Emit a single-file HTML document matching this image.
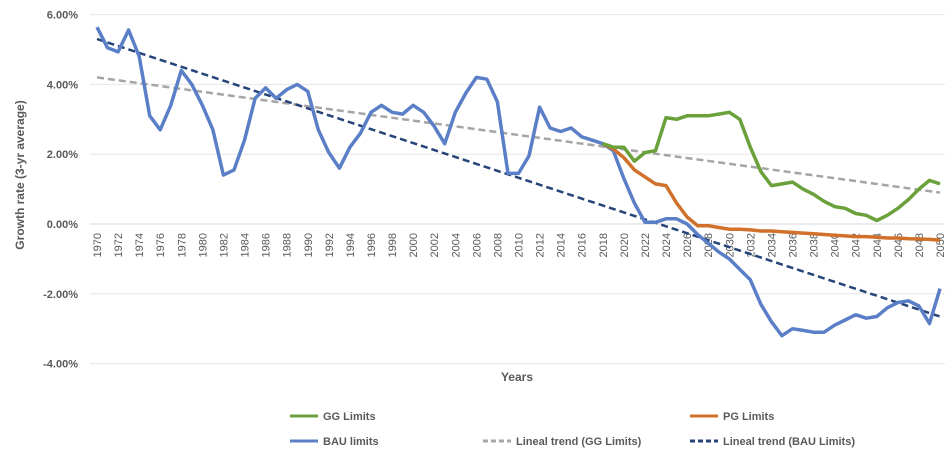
<!DOCTYPE html>
<html><head><meta charset="utf-8"><style>
body{margin:0;background:#fff;}
svg text{font-family:"Liberation Sans",sans-serif;fill:#595959;}
</style></head><body>
<svg id="c" width="949" height="459"></svg>
<script>
const years=[];for(let y=1970;y<=2050;y++)years.push(y);
const yTicks=[6,4,2,0,-2,-4];
const bau=[5.64,5.05,4.93,5.56,4.8,3.1,2.7,3.4,4.4,4.0,3.4,2.7,1.4,1.55,2.4,3.6,3.9,3.6,3.85,4.0,3.8,2.7,2.05,1.6,2.2,2.6,3.2,3.4,3.2,3.15,3.4,3.2,2.8,2.3,3.2,3.75,4.2,4.15,3.5,1.45,1.45,1.95,3.35,2.75,2.65,2.75,2.5,2.4,2.3,2.1,1.3,0.6,0.05,0.05,0.15,0.15,0.0,-0.3,-0.55,-0.8,-1.0,-1.3,-1.6,-2.3,-2.8,-3.2,-3.0,-3.05,-3.1,-3.1,-2.9,-2.75,-2.6,-2.7,-2.65,-2.4,-2.25,-2.2,-2.35,-2.85,-1.85];
const ggYears=[];for(let y=2018;y<=2050;y++)ggYears.push(y);
const gg=[2.3,2.2,2.2,1.8,2.05,2.1,3.05,3.0,3.1,3.1,3.1,3.15,3.2,3.0,2.2,1.5,1.1,1.15,1.2,1.0,0.85,0.65,0.5,0.45,0.3,0.25,0.1,0.25,0.45,0.7,1.0,1.25,1.15];
const pg=[2.3,2.15,1.9,1.55,1.35,1.15,1.1,0.6,0.2,-0.05,-0.05,-0.1,-0.15,-0.15,-0.17,-0.2,-0.2,-0.22,-0.24,-0.26,-0.28,-0.3,-0.32,-0.34,-0.36,-0.36,-0.38,-0.4,-0.4,-0.42,-0.43,-0.44,-0.46];
const ggTrend=[4.2,0.9];
const bauTrend=[5.3,-2.65];
const NS="http://www.w3.org/2000/svg";
const svg=document.getElementById('c');
const X=y=>97+(y-1970)*(940-97)/80;
const Y=v=>224-v*34.9;
function el(t,a,p){const e=document.createElementNS(NS,t);for(const k in a)e.setAttribute(k,a[k]);(p||svg).appendChild(e);return e;}
yTicks.forEach(v=>{
 const g=el('line',{x1:90,x2:945,y1:Y(v),y2:Y(v),stroke:v===0?'#d9d9d9':'#e6e6e6','stroke-width':1});
 
 
 const t=el('text',{x:78,y:Y(v)+4,'text-anchor':'end','font-size':11,'font-weight':'bold'});
 t.textContent=v.toFixed(2)+'%';
 
 
});
years.forEach(y=>{
 if(y%2===0){
 const t=el('text',{transform:`translate(${X(y)+4},233) rotate(-90)`,'text-anchor':'end','font-size':11});
 t.textContent=y;
 
 }
});
function line(xs,vs,color,w,dash,name){
 const d=xs.map((x,i)=>(i?'L':'M')+X(x).toFixed(1)+','+Y(vs[i]).toFixed(1)).join('');
 const p=el('path',{d,fill:'none',stroke:color,'stroke-width':w,'stroke-linejoin':'round'});
 if(dash)p.setAttribute('stroke-dasharray',dash);
 
 
}
line([1970,2050],ggTrend,'#a5a5a5',2.5,'7,4','gg-trend-line');
line([1970,2050],bauTrend,'#264478',2.5,'7,4','bau-trend-line');
line(years,bau,'#5b7fc7',3.5,null,'bau-line');
line(ggYears,pg,'#d0702a',3.5,null,'pg-line');
line(ggYears,gg,'#6aa13a',3.5,null,'gg-line');
const yt=el('text',{transform:'translate(24,175) rotate(-90)','text-anchor':'middle','font-size':12,'font-weight':'bold'});
yt.textContent='Growth rate (3-yr average)';


const xt=el('text',{x:517,y:381,'text-anchor':'middle','font-size':12,'font-weight':'bold'});
xt.textContent='Years';


const legend=[['GG Limits','#6aa13a',null,290,416],['PG Limits','#d0702a',null,690,416],['BAU limits','#5b7fc7',null,290,441],['Lineal trend (GG Limits)','#a5a5a5','5,3',483,441],['Lineal trend (BAU Limits)','#264478','5,3',690,441]];
legend.forEach(l=>{
 const g=el('g',{});
 
 
 const s=el('line',{x1:l[3],x2:l[3]+28,y1:l[4],y2:l[4],stroke:l[1],'stroke-width':3},g);
 if(l[2])s.setAttribute('stroke-dasharray',l[2]);
 const t=el('text',{x:l[3]+33,y:l[4]+4,'font-size':11,'font-weight':'bold'},g);
 t.textContent=l[0];
});
</script>
</body></html>
